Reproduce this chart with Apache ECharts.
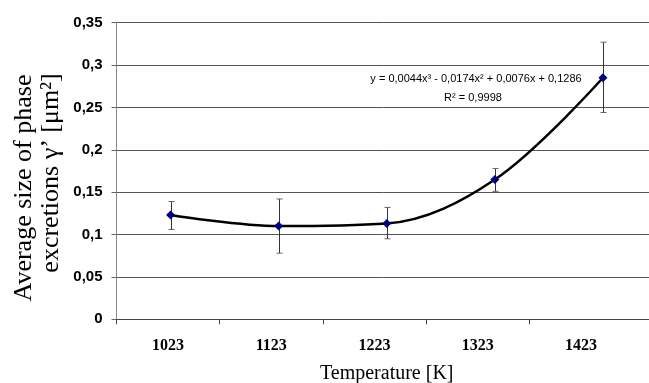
<!DOCTYPE html>
<html>
<head>
<meta charset="utf-8">
<script src="https://cdn.jsdelivr.net/npm/echarts@6/dist/echarts.min.js"></script>
<style>html,body{margin:0;padding:0;background:#fff;}#c{width:649px;height:383px;}</style>
</head>
<body>
<div id="c"></div>
<script>
var categories = ['1023', '1123', '1223', '1323', '1423'];
var sizeValues = [0.123, 0.110, 0.113, 0.165, 0.285];
var errUpper = [0.139, 0.142, 0.132, 0.178, 0.327];
var errLower = [0.106, 0.078, 0.095, 0.151, 0.244];
var yTicks = [0, 0.05, 0.1, 0.15, 0.2, 0.25, 0.3, 0.35];
var equationLine = 'y = 0,0044x³ - 0,0174x² + 0,0076x + 0,1286';
var r2Line = 'R² = 0,9998';

var chart = echarts.init(document.getElementById('c'), null, {renderer: 'canvas'});
var labelCenters = categories.map(function (c, i) { return i + 0.5; });
var tickPos = categories.map(function (c, i) { return i; });

var option = {
  animation: false,
  grid: {left: 116.5, right: -8, top: 22.7, bottom: 63.7, containLabel: false, outerBoundsMode: 'none'},
  xAxis: [
    {type: 'category', data: categories, show: false, position: 'top', boundaryGap: true},
    {type: 'value', position: 'bottom', min: 0, max: 5.237, interval: 1,
     splitLine: {show: false},
     axisLine: {show: true, lineStyle: {color: '#444', width: 1}},
     axisTick: {show: true, length: 5, lineStyle: {color: '#444'}, customValues: tickPos},
     axisLabel: {show: true, customValues: labelCenters, margin: 19,
       formatter: function (v) { var i = Math.floor(v); return categories[i] || ''; },
       fontFamily: 'Liberation Serif', fontWeight: 'bold', fontSize: 16, color: '#000'},
     name: 'Temperature [K]', nameLocation: 'middle', nameGap: 44,
     nameTextStyle: {fontFamily: 'Liberation Serif', fontSize: 20, color: '#000'}
    }
  ],
  yAxis: {
    type: 'value', min: 0, max: 0.35, interval: 0.05,
    axisLine: {show: true, lineStyle: {color: '#888'}},
    axisTick: {show: true, length: 5, lineStyle: {color: '#666'}},
    splitLine: {show: true, lineStyle: {color: '#555', width: 1}},
    axisLabel: {margin: 14, fontFamily: 'Liberation Sans', fontWeight: 'bold', fontSize: 15, color: '#000',
      formatter: function (v) { return String(+v.toFixed(2)).replace('.', ','); }}
  },
  series: [
    {
      type: 'custom', xAxisIndex: 0, yAxisIndex: 0, z: 3,
      data: categories.map(function (c, i) { return [i, errLower[i], errUpper[i]]; }),
      renderItem: function (params, api) {
        var lo = api.coord([api.value(0), api.value(1)]);
        var hi = api.coord([api.value(0), api.value(2)]);
        var x = Math.round(lo[0]) + 0.5;
        var w = 3;
        return {type: 'group', children: [
          {type: 'line', shape: {x1: x, y1: hi[1], x2: x, y2: lo[1]}, style: {stroke: '#333', lineWidth: 1}},
          {type: 'line', shape: {x1: x - w, y1: hi[1], x2: x + w, y2: hi[1]}, style: {stroke: '#666', lineWidth: 1}},
          {type: 'line', shape: {x1: x - w, y1: lo[1], x2: x + w, y2: lo[1]}, style: {stroke: '#666', lineWidth: 1}}
        ]};
      }
    },
    {
      type: 'line', xAxisIndex: 0, yAxisIndex: 0, z: 4,
      data: sizeValues, smooth: 0.35,
      lineStyle: {color: '#000', width: 2.5},
      symbol: 'diamond', symbolSize: 9,
      itemStyle: {color: '#000080', borderWidth: 0}
    }
  ],
  graphic: [
    {type: 'text', x: 24, y: 188, rotation: Math.PI / 2,
     style: {text: 'Average size of phase', font: '26px "Liberation Serif"', fill: '#000', align: 'center', verticalAlign: 'middle'}},
    {type: 'text', x: 51, y: 173, rotation: Math.PI / 2,
     style: {text: 'excretions γ’ [μm²]', font: '26px "Liberation Serif"', fill: '#000', align: 'center', verticalAlign: 'middle'}},
    {type: 'text', x: 476, y: 79,
     style: {text: equationLine, font: '11px "Liberation Sans"', fill: '#000', align: 'center', verticalAlign: 'middle'}},
    {type: 'text', x: 473, y: 98,
     style: {text: r2Line, font: '11px "Liberation Sans"', fill: '#000', align: 'center', verticalAlign: 'middle'}}
  ]
};
chart.setOption(option);
</script>
</body>
</html>
